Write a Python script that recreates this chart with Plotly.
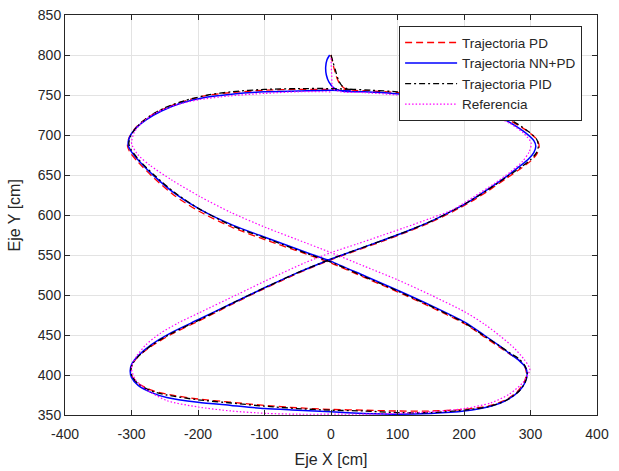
import plotly.graph_objects as go

# --- Trajectoria PD (red, dashed)
pd_x = [0, 2, 5, 9, 14, 21, 32,
        60, 100, 145, 190, 228, 258, 282, 300, 310, 313, 310, 301, 287, 264, 236, 211, 185, 150, 115, 80, 40, 0, -12,
        -50, -100, -150, -200, -240, -270, -290, -299, -301,
        -299, -289, -270, -247, -200, -150, -100, -50, 0, 50, 100, 150, 200, 240, 265, 282, 291, 294,
        291, 282, 269, 253, 230, 201, 150, 100, 50, 0, -40, -92, -147, -197, -235, -266, -290, -302, -306,
        -304, -295, -279, -256, -226, -190, -150, -100, -50, 0, 30]
pd_y = [800, 792, 782, 771, 763, 758, 756,
        755, 753, 749, 742, 733, 723, 712, 702, 694, 686, 677, 668, 659, 646, 630, 617, 605, 591, 579, 568, 556, 544, 540,
        527, 508, 488, 467, 451, 436, 423, 413, 406,
        398, 389, 381, 376, 370, 366, 362, 359, 357, 356, 355, 355, 357, 362, 370, 381, 392, 402,
        411, 419, 426, 435, 448, 464, 485, 504, 522, 540, 552, 567, 584, 604, 624, 646, 666, 678, 686,
        696, 708, 720, 731, 741, 749, 753, 756, 757, 757, 756]

# --- Trajectoria NN+PD (blue, solid)
nn_x = [-2, -6, -8, -7, -3, 4, 15,
        50, 93, 140, 185, 225, 255, 278, 295, 305, 308, 305, 297, 284, 262, 234, 210, 184, 150, 115, 80, 40, 0, -12,
        -50, -100, -150, -200, -240, -270, -290, -300, -302,
        -300, -290, -270, -247, -200, -150, -100, -50, 0, 50, 100, 150, 200, 240, 265, 283, 292, 295,
        292, 283, 270, 254, 230, 201, 150, 100, 50, 0, -40, -92, -147, -197, -235, -265, -288, -300, -305,
        -303, -294, -278, -255, -225, -190, -150, -100, -50, 0, 30]
nn_y = [800, 794, 785, 775, 766, 759, 755,
        754, 752, 748, 741, 732, 722, 711, 701, 693, 686, 678, 670, 661, 647, 631, 618, 606, 592, 580, 569, 557, 545, 541,
        528, 509, 489, 469, 453, 438, 424, 413, 405,
        397, 387, 378, 372, 366, 362, 358, 356, 354, 352, 351, 352, 355, 361, 369, 380, 391, 402,
        410, 418, 426, 436, 450, 466, 487, 506, 524, 542, 554, 570, 587, 607, 627, 648, 667, 679, 687,
        697, 708, 719, 730, 740, 747, 751, 754, 755, 756, 755]

# --- Trajectoria PID (black, dash-dot)
pid_x = [0, 3, 7, 11, 16, 24, 36,
         60, 100, 145, 190, 228, 258, 282, 299, 309, 312, 309, 300, 286, 263, 235, 210, 184, 150, 115, 80, 40, 0, -12,
         -50, -100, -150, -200, -240, -270, -290, -299, -301,
         -299, -290, -270, -247, -200, -150, -100, -50, 0, 50, 100, 150, 200, 240, 265, 283, 292, 295,
         292, 283, 270, 254, 230, 201, 150, 100, 50, 0, -40, -92, -147, -197, -235, -266, -289, -300, -304,
         -301, -291, -274, -250, -220, -185, -150, -100, -50, 0, 30]
pid_y = [800, 791, 780, 769, 762, 758, 757,
         756, 754, 750, 743, 734, 724, 713, 703, 695, 687, 678, 669, 660, 647, 631, 618, 606, 592, 580, 569, 557, 545, 541,
         528, 509, 489, 468, 452, 437, 423, 413, 406,
         398, 389, 380, 375, 369, 365, 361, 358, 356, 355, 353, 353, 356, 361, 369, 380, 391, 402,
         411, 420, 427, 436, 449, 465, 486, 505, 523, 541, 553, 569, 586, 607, 628, 650, 669, 681, 689,
         699, 711, 723, 734, 743, 750, 754, 757, 758, 758, 757]

# --- Referencia (magenta, dotted)
ref_x = [0, 1, 3, 15,
         50, 100, 150, 200, 240, 270, 290, 301, 298, 288, 270, 245, 215, 184, 150, 110, 75, 40, 0,
         -40, -90, -140, -200, -230, -257, -278, -292, -299, -300,
         -294, -276, -247, -200, -150, -97, -50, 0, 50, 100, 150, 200, 240, 268, 288, 299,
         298, 290, 275, 254, 230, 201, 150, 100, 50, 0, -50, -97, -150, -197, -240, -272, -290, -299, -300,
         -296, -285, -265, -235, -200, -150, -100, -50, 0]
ref_y = [796, 776, 758, 754,
         753, 750, 745, 737, 726, 714, 702, 690, 679, 667, 654, 639, 623, 607, 596, 584, 574, 564, 553,
         540, 521, 501, 477, 465, 452, 438, 424, 413, 407,
         394, 381, 368, 360, 355, 352, 351, 351, 351, 352, 354, 358, 365, 376, 390, 406,
         410, 420, 434, 449, 464, 479, 500, 519, 536, 553, 569, 584, 603, 623, 644, 662, 675, 687, 691,
         703, 715, 727, 737, 744, 749, 752, 754, 754]

x_ticks = [-400, -300, -200, -100, 0, 100, 200, 300, 400]
y_ticks = [350, 400, 450, 500, 550, 600, 650, 700, 750, 800, 850]

AX = "#262626"
FONT = "Liberation Sans, Arial, Helvetica, sans-serif"

fig = go.Figure()
fig.add_trace(go.Scatter(x=pd_x, y=pd_y, mode="lines", name="Trajectoria PD",
                         line=dict(color="#ff0000", width=1.3, dash="7px,4px", shape="spline", smoothing=0.7)))
fig.add_trace(go.Scatter(x=nn_x, y=nn_y, mode="lines", name="Trajectoria NN+PD",
                         line=dict(color="#0000ff", width=1.5, shape="spline", smoothing=0.7)))
fig.add_trace(go.Scatter(x=pid_x, y=pid_y, mode="lines", name="Trajectoria PID",
                         line=dict(color="#000000", width=1.3, dash="6px,3px,2px,3px", shape="spline", smoothing=0.7)))
fig.add_trace(go.Scatter(x=ref_x, y=ref_y, mode="lines", name="Referencia",
                         line=dict(color="#ff00ff", width=1.2, dash="1.5px,2px", shape="spline", smoothing=0.7)))

axis_common = dict(
    showgrid=True, gridcolor="#e3e3e3", gridwidth=1,
    showline=True, linecolor=AX, linewidth=1, mirror="ticks",
    ticks="inside", ticklen=5, tickcolor=AX,
    zeroline=False, automargin=False,
    tickfont=dict(family=FONT, size=14, color=AX),
)

fig.update_xaxes(range=[-400, 400], tickvals=x_ticks, ticktext=[str(v) for v in x_ticks],
                 ticklabelstandoff=6,
                 title=dict(text="Eje X [cm]", font=dict(family=FONT, size=16, color=AX), standoff=13),
                 **axis_common)
fig.update_yaxes(range=[350, 850], tickvals=y_ticks, ticktext=[str(v) for v in y_ticks],
                 **axis_common)

fig.add_annotation(text="Eje Y [cm]", xref="paper", yref="paper", x=-0.095, y=0.5,
                   xanchor="center", yanchor="middle", textangle=-90, showarrow=False,
                   font=dict(family=FONT, size=16, color=AX))

fig.update_layout(
    width=619, height=471,
    margin=dict(l=65, r=22, t=15, b=56),
    paper_bgcolor="white", plot_bgcolor="white",
    showlegend=True,
    legend=dict(x=0.972, y=0.972, xanchor="right", yanchor="top",
                bgcolor="white", bordercolor=AX, borderwidth=1,
                font=dict(family=FONT, size=13.5, color=AX),
                itemwidth=52, tracegroupgap=0),
)

fig.write_html("out.html")
